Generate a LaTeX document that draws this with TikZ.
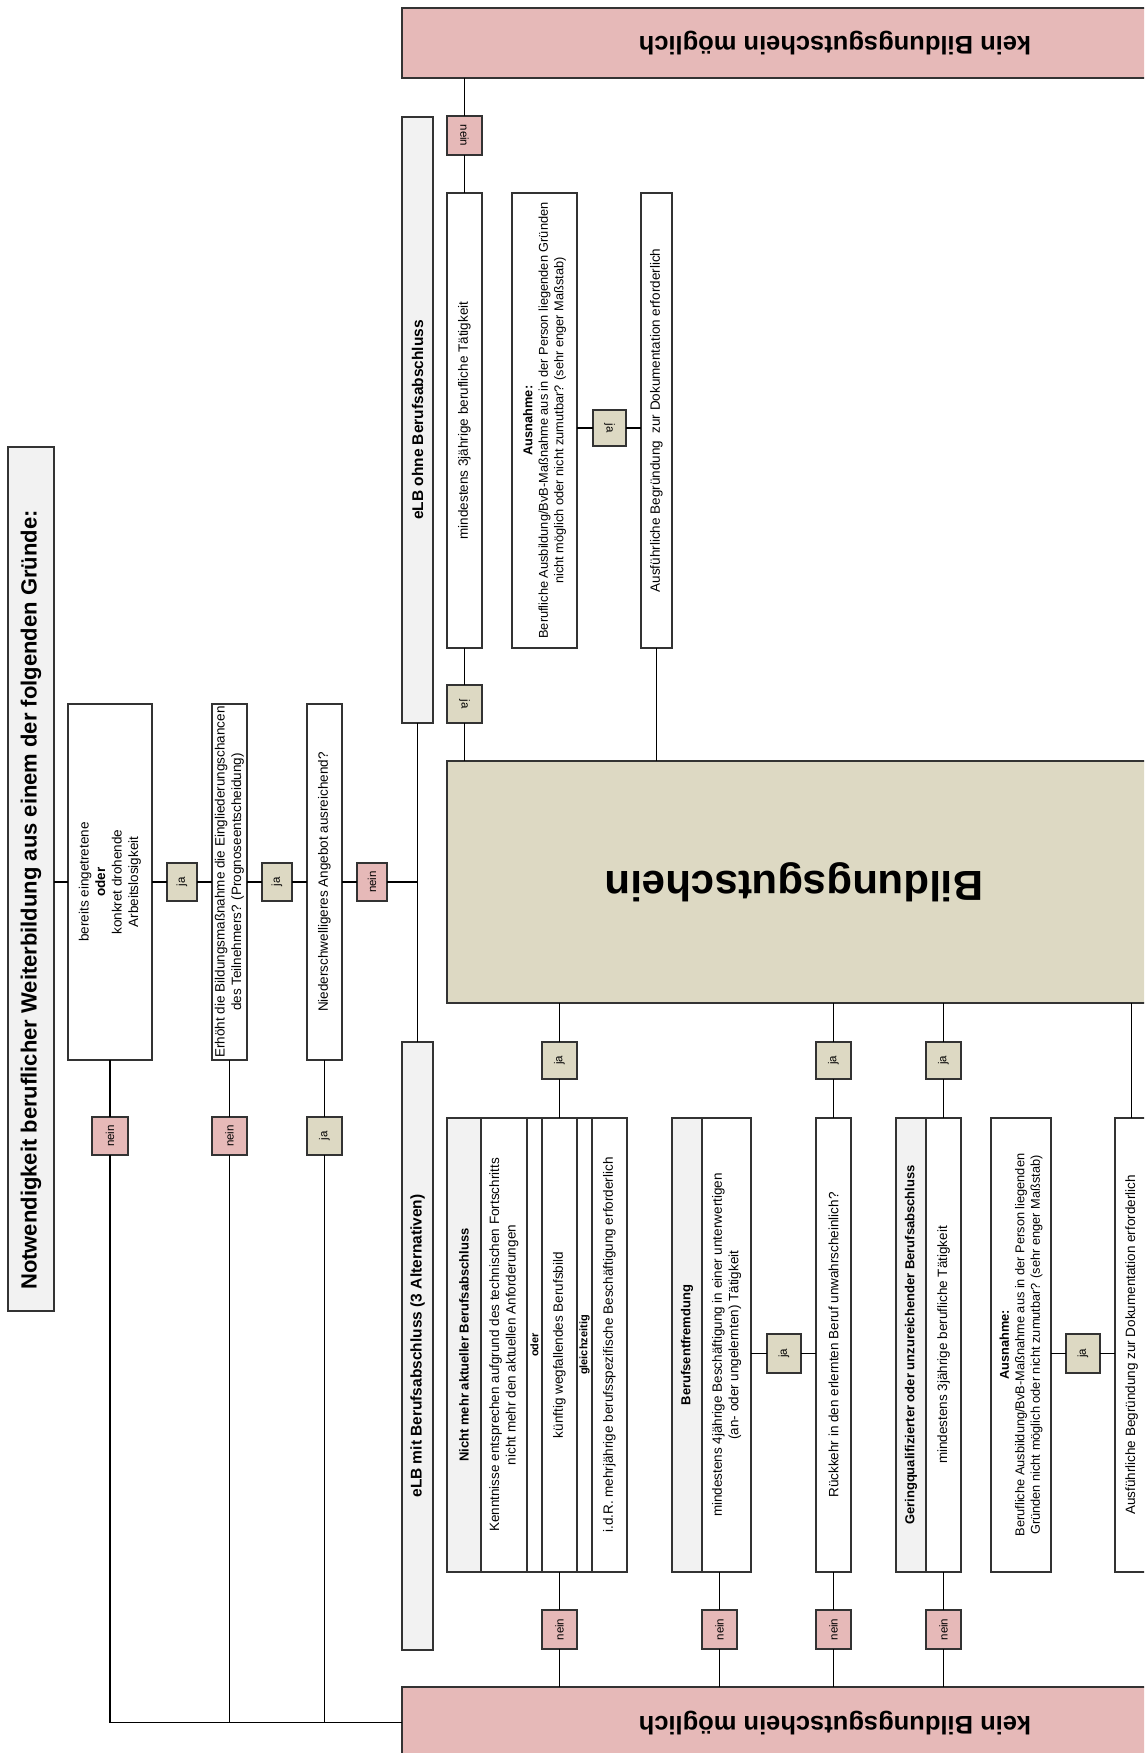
\documentclass[tikz,border=0pt]{standalone}
\usepackage{fontspec}
\setmainfont{Liberation Sans}
\definecolor{pinkc}{HTML}{E6B9B8}
\definecolor{beigec}{HTML}{DDD9C3}
\definecolor{grayc}{HTML}{F2F2F2}
\newcommand\mkbox[8]{%
  \node[#2, minimum width={(#6)-(#4)}, minimum height={(#7)-(#5)}] (#1) at ({((#4)+(#6))/2},{((#5)+(#7))/2}) {};%
  \node[#3] at (#1.center) {#8};}
\begin{document}
\begin{tikzpicture}[x=1pt,y=-1pt,
  bx/.style={draw=black!80, line width=1.2pt, fill=white, inner sep=0pt, outer sep=0pt},
  gbx/.style={bx, fill=grayc},
  pbx/.style={bx, fill=pinkc, line width=1.5pt},
  bbx/.style={bx, fill=beigec, line width=1.6pt},
  tx/.style={rotate=90, align=center, inner sep=0pt, font=\fontsize{13.5}{16.5}\selectfont},
  txa/.style={tx, font=\fontsize{12.8}{15.5}\selectfont},
  txb/.style={tx, font=\bfseries\fontsize{13}{16}\selectfont},
  txe/.style={tx, font=\bfseries\fontsize{15.5}{18}\selectfont},
  txs/.style={tx, font=\bfseries\fontsize{11}{12}\selectfont},
  lab/.style={tx, font=\fontsize{11.5}{12}\selectfont},
  labr/.style={rotate=-90, align=center, inner sep=0pt, font=\fontsize{11.5}{12}\selectfont},
  big/.style={rotate=180, inner sep=0pt, font=\bfseries\fontsize{25.5}{28}\selectfont},
  conn/.style={draw=black, line width=1.4pt},
]
\useasboundingbox (0,0) rectangle (1144,1753);
\fill[white] (0,0) rectangle (1144,1753);
\clip (0,0) rectangle (1144,1753);

% title
\node[gbx, line width=2pt, minimum width=46, minimum height=864] (title) at (31,879) {};
\node[rotate=90, anchor=west, inner sep=0pt, font=\bfseries\fontsize{22}{26}\selectfont] at (31,1290) {Notwendigkeit beruflicher Weiterbildung aus einem der folgenden Gründe:};

% left column
\mkbox{ber}{bx}{tx}{68}{704}{152}{1060}{bereits eingetretene\\\textbf{oder}\\konkret drohende\\Arbeitslosigkeit}
\mkbox{erh}{bx}{tx}{212}{704}{247}{1060}{Erhöht die Bildungsmaßnahme die Eingliederungschancen\\des Teilnehmers? (Prognoseentscheidung)}
\mkbox{nie}{bx}{tx}{307}{704}{342}{1060}{Niederschwelligeres Angebot ausreichend?}
\mkbox{ja1}{bbx}{lab}{167}{863}{197}{901}{ja}
\mkbox{ja2}{bbx}{lab}{262}{863}{292}{901}{ja}
\mkbox{ne3}{pbx}{lab}{357}{863}{387}{901}{nein}
\mkbox{ne1}{pbx}{lab}{92}{1117}{128}{1155}{nein}
\mkbox{ne2}{pbx}{lab}{212}{1117}{247}{1155}{nein}
\mkbox{ja3}{bbx}{lab}{307}{1117}{342}{1155}{ja}

% eLB boxes
\mkbox{eo}{gbx}{txe}{402}{117}{433}{723}{eLB ohne Berufsabschluss}
\mkbox{em}{gbx}{txe}{402}{1042}{433}{1650}{eLB mit Berufsabschluss (3 Alternativen)}

% result boxes
\node[pbx, minimum width=866, minimum height=70] (ktop) at (835,43) {};
\node[big] at (835,43) {kein Bildungsgutschein möglich};
\node[pbx, minimum width=866, minimum height=73] (kbot) at (835,1723.5) {};
\node[big] at (835,1723) {kein Bildungsgutschein möglich};
\node[bbx, minimum width=713, minimum height=242] (bg) at (803.5,882) {};
\node[rotate=180, inner sep=0pt, font=\bfseries\fontsize{42}{46}\selectfont] at (794,882) {Bildungsgutschein};

% top branch (ohne Berufsabschluss)
\mkbox{nt}{pbx}{labr}{447}{116}{482}{155}{nein}
\mkbox{mi1}{bx}{tx}{447}{193}{482}{648}{mindestens 3jährige berufliche Tätigkeit}
\mkbox{jt1}{bbx}{labr}{447}{685}{482}{723}{ja}
\mkbox{au1}{bx}{txa}{512}{193}{577}{648}{\textbf{Ausnahme:}\\Berufliche Ausbildung/BvB-Maßnahme aus in der Person liegenden Gründen\\nicht möglich oder nicht zumutbar? (sehr enger Maßstab)}
\mkbox{jt2}{bbx}{labr}{593}{410}{626}{446}{ja}
\mkbox{af1}{bx}{tx}{641}{193}{672}{648}{Ausführliche Begründung\ \ zur Dokumentation erforderlich}

% bottom branch (mit Berufsabschluss)
\mkbox{jb1}{bbx}{lab}{542}{1042}{577}{1079}{ja}
\mkbox{nm}{bx}{tx}{447}{1118}{627}{1572}{}
\mkbox{nmh}{gbx}{txb}{447}{1118}{481}{1572}{Nicht mehr aktueller Berufsabschluss}
\mkbox{nm1}{bx}{tx}{481}{1118}{527}{1572}{Kenntnisse entsprechen aufgrund des technischen Fortschritts\\nicht mehr den aktuellen Anforderungen}
\mkbox{nm2}{bx}{txs}{527}{1118}{542}{1572}{oder}
\mkbox{nm3}{bx, line width=1.6pt}{tx}{542}{1118}{577}{1572}{künftig wegfallendes Berufsbild}
\mkbox{nm4}{bx, line width=1.6pt}{txs}{577}{1118}{592}{1572}{gleichzeitig}
\mkbox{nm5}{bx}{tx}{592}{1118}{627}{1572}{i.d.R. mehrjährige berufsspezifische Beschäftigung erforderlich}
\draw[draw=black!80, line width=1.5pt] (nm.north west) rectangle (nm.south east);
\mkbox{nb1}{pbx}{lab}{542}{1610}{577}{1649}{nein}

\mkbox{beh}{gbx}{txb}{672}{1118}{702}{1572}{Berufsentfremdung}
\mkbox{bet}{bx}{tx}{702}{1118}{751}{1572}{mindestens 4jährige Beschäftigung in einer unterwertigen\\(an- oder ungelernten) Tätigkeit}
\mkbox{nb2}{pbx}{lab}{702}{1610}{737}{1649}{nein}
\mkbox{jb2}{bbx}{lab}{767}{1334}{801}{1373}{ja}

\mkbox{rk}{bx}{tx}{816}{1118}{851}{1572}{Rückkehr in den erlernten Beruf unwahrscheinlich?}
\mkbox{jb3}{bbx}{lab}{816}{1042}{851}{1079}{ja}
\mkbox{nb3}{pbx}{lab}{816}{1610}{851}{1649}{nein}

\mkbox{gqh}{gbx}{txb}{896}{1118}{926}{1572}{Geringqualifizierter oder unzureichender Berufsabschluss}
\mkbox{gqt}{bx}{tx}{926}{1118}{961}{1572}{mindestens 3jährige berufliche Tätigkeit}
\mkbox{jb4}{bbx}{lab}{926}{1042}{961}{1079}{ja}
\mkbox{nb4}{pbx}{lab}{926}{1610}{961}{1649}{nein}

\mkbox{au2}{bx}{txa}{991}{1118}{1051}{1572}{\textbf{Ausnahme:}\\Berufliche Ausbildung/BvB-Maßnahme aus in der Person liegenden\\Gründen nicht möglich oder nicht zumutbar? (sehr enger Maßstab)}
\mkbox{jb5}{bbx}{lab}{1066}{1334}{1100}{1373}{ja}
\mkbox{af2}{bx}{tx}{1115}{1118}{1148}{1572}{Ausführliche Begründung zur Dokumentation erforderlich}

% connectors: left column
\coordinate (yb) at (0,1722.5);
\draw[conn] (title.east |- ber) -- (ber) (ber) -- (ja1) (ja1) -- (erh) (erh) -- (ja2)
  (ja2) -- (nie) (nie) -- (ne3) (ne3) -- (ne3 -| eo);
\draw[conn] (eo) -- (em);
\draw[conn] (ber) -- (ne1) (ne1) -- (ne1 |- yb) -- (kbot.west |- yb);
\draw[conn] (erh) -- (ne2) (ne2) -- (ne2 |- yb);
\draw[conn] (nie) -- (ja3) (ja3) -- (ja3 |- yb);

% connectors: top branch
\draw[conn] (ktop.south -| nt) -- (nt) (nt) -- (mi1) (mi1) -- (jt1) (jt1) -- (bg.north -| jt1);
\draw[conn] (jt2 -| au1.east) -- (jt2) (jt2) -- (jt2 -| af1.west);
\draw[conn] (af1) -- (bg.north -| af1);

% connectors: bottom branch
\draw[conn] (bg.south -| jb1) -- (jb1) (jb1) -- (nm.north -| jb1);
\draw[conn] (nm.south -| nb1) -- (nb1) (nb1) -- (kbot.north -| nb1);
\draw[conn] (bet.south -| nb2) -- (nb2) (nb2) -- (kbot.north -| nb2);
\draw[conn] (jb2 -| bet.east) -- (jb2) (jb2) -- (jb2 -| rk.west);
\draw[conn] (bg.south -| rk) -- (jb3) (jb3) -- (rk) (rk) -- (nb3) (nb3) -- (kbot.north -| nb3);
\draw[conn] (bg.south -| gqt) -- (jb4) (jb4) -- (gqt) (gqt) -- (nb4) (nb4) -- (kbot.north -| nb4);
\draw[conn] (jb5 -| au2.east) -- (jb5) (jb5) -- (jb5 -| af2.west);
\draw[conn] (bg.south -| af2) -- (af2);
\end{tikzpicture}
\end{document}
